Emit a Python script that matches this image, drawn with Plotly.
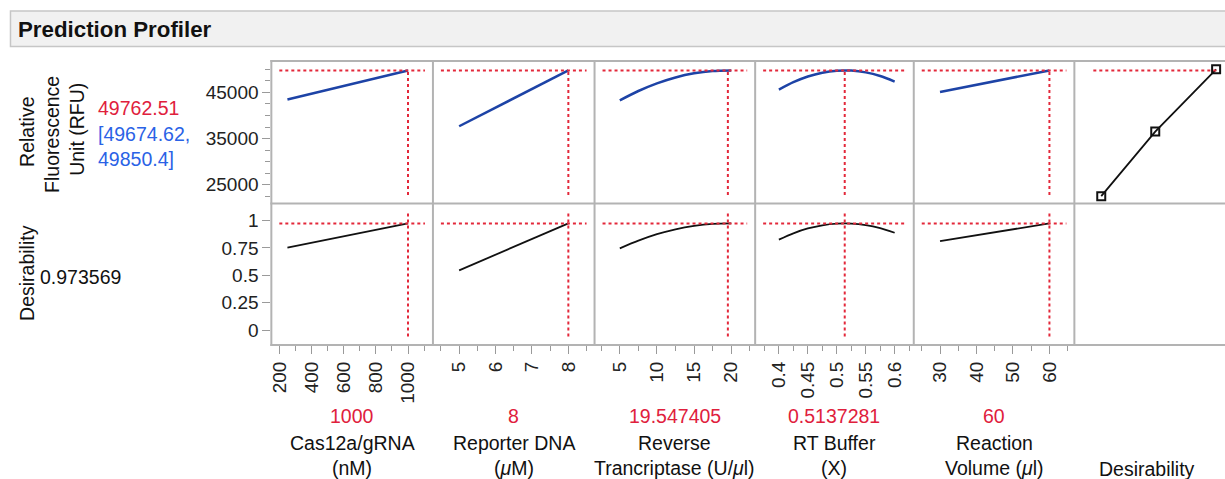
import plotly.graph_objects as go

# ---------------- data ----------------
response_name = "Relative Fluorescence Unit (RFU)"
pred_value = 49762.51
pred_ci = [49674.62, 49850.4]
desirability_value = 0.973569

factor_titles = [["Cas12a/gRNA", "(nM)"],
                 ["Reporter DNA", "(<i>μ</i>M)"],
                 ["Reverse", "Trancriptase (U/<i>μ</i>l)"],
                 ["RT Buffer", "(X)"],
                 ["Reaction", "Volume (<i>μ</i>l)"]]
factor_current = [1000, 8, 19.547405, 0.5137281, 60]
factor_current_text = ["1000", "8", "19.547405", "0.5137281", "60"]

cas_x = [250, 1000]
cas_rfu = [43480, 49762.51]
cas_des = [0.752, 0.9736]

rep_x = [5, 8]
rep_rfu = [37670, 49762.51]
rep_des = [0.545, 0.9736]

rt_x = [5, 7.5, 10, 12.5, 15, 17.5, 20]
rt_rfu = [43270, 45300, 46960, 48240, 49130, 49630, 49756]
rt_des = [0.746, 0.816, 0.875, 0.920, 0.951, 0.969, 0.9734]

buf_x = [0.4, 0.425, 0.45, 0.475, 0.5, 0.525, 0.55, 0.575, 0.6]
buf_rfu = [45600, 47205, 48444, 49276, 49701, 49721, 49334, 48541, 47340]
buf_des = [0.825, 0.883, 0.927, 0.956, 0.971, 0.972, 0.9585, 0.9305, 0.888]

vol_x = [30, 60]
vol_rfu = [45065, 49762.51]
vol_des = [0.812, 0.9736]

des_fn_x = [0.135, 0.567, 1.054]
des_fn_rfu = [22520, 36520, 50000]

x_ranges = [[150, 1155], [4.28, 8.72], [1.6, 23.22], [0.359, 0.633], [22.8, 66.84], [-0.08, 1.125]]
x_dtick = [200, 1, 5, 0.05, 10, 0.25]
x_minor = [100, 0.5, 2.5, 0.025, 5, None]
rfu_range = [20935, 51800]
des_range = [-0.136, 1.155]

# ---------------- layout geometry (pixels) ----------------
W, H = 1225, 479
col_edges = [269, 431, 593, 754, 913, 1074, 1225]
row_edges = [61, 203.5, 345]
FONT = "Liberation Sans, Arial, Helvetica, sans-serif"
RED = "#e3283a"
REDTXT = "#e0203c"
BLUETXT = "#2a62e6"
BLUE = "#1d43a6"
GRID = "#b3b3b3"
TICK = "#9a9a9a"
TXT = 19.5
TICKTXT = 19

def px_x(p):
    return p / W

def px_y(p):
    return 1 - p / H

fig = go.Figure()

curves_x = [cas_x, rep_x, rt_x, buf_x, vol_x]
curves_rfu = [cas_rfu, rep_rfu, rt_rfu, buf_rfu, vol_rfu]
curves_des = [cas_des, rep_des, rt_des, buf_des, vol_des]

layout_axes = {}
for r in range(2):
    for c in range(6):
        k = r * 6 + c + 1
        xs = "" if k == 1 else str(k)
        xdom = [px_x(col_edges[c]), px_x(col_edges[c + 1])]
        ydom = [px_y(row_edges[r + 1]), px_y(row_edges[r])]
        xa = dict(domain=xdom, range=x_ranges[c], anchor="y" + xs,
                  showgrid=False, zeroline=False, showline=False,
                  fixedrange=True)
        if r == 1:
            xa.update(ticks="outside", ticklen=8, tickcolor=TICK, tickwidth=1,
                      tick0=0, dtick=x_dtick[c], tickangle=-90, tickformat="~g",
                      tickfont=dict(family=FONT, size=TICKTXT, color="#222"))
            if x_minor[c] is not None:
                xa["minor"] = dict(dtick=x_minor[c], ticks="outside", ticklen=5,
                                   tickcolor=TICK, showgrid=False)
        else:
            xa.update(showticklabels=False, ticks="")
        ya = dict(domain=ydom, anchor="x" + xs, showgrid=False, zeroline=False,
                  showline=False, fixedrange=True,
                  range=rfu_range if r == 0 else des_range)
        if c == 0:
            ya.update(ticks="outside", ticklen=8, tickcolor=TICK, tickwidth=1,
                      tickfont=dict(family=FONT, size=TICKTXT, color="#222"))
            if r == 0:
                ya.update(tick0=25000, dtick=10000, tickformat="d",
                          minor=dict(dtick=2500, ticks="outside", ticklen=5,
                                     tickcolor=TICK, showgrid=False))
            else:
                ya.update(tick0=0, dtick=0.25, tickformat="~g")
        else:
            ya.update(showticklabels=False, ticks="")
        layout_axes["xaxis" + xs] = xa
        layout_axes["yaxis" + xs] = ya

# profile traces
for c in range(5):
    k_top = c + 1
    k_bot = 6 + c + 1
    xt = "x" if k_top == 1 else "x" + str(k_top)
    yt = "y" if k_top == 1 else "y" + str(k_top)
    fig.add_trace(go.Scatter(x=curves_x[c], y=curves_rfu[c], mode="lines",
                             line=dict(color=BLUE, width=2.5, shape="spline", smoothing=0.8),
                             xaxis=xt, yaxis=yt, hoverinfo="skip"))
    fig.add_trace(go.Scatter(x=curves_x[c], y=curves_des[c], mode="lines",
                             line=dict(color="#111", width=1.8, shape="spline", smoothing=0.8),
                             xaxis="x" + str(k_bot), yaxis="y" + str(k_bot),
                             hoverinfo="skip"))

# desirability function panel
fig.add_trace(go.Scatter(x=des_fn_x, y=des_fn_rfu, mode="lines+markers",
                         line=dict(color="#111", width=1.8),
                         marker=dict(symbol="square-open", size=8, color="#111",
                                     line=dict(width=2, color="#111")),
                         xaxis="x6", yaxis="y6", hoverinfo="skip"))

shapes = []
# crosshair lines
for r in range(2):
    rowh = row_edges[r + 1] - row_edges[r]
    yval = pred_value if r == 0 else desirability_value
    for c in range(6):
        if r == 1 and c == 5:
            continue
        k = r * 6 + c + 1
        xs = "" if k == 1 else str(k)
        colw = col_edges[c + 1] - col_edges[c]
        if c == 5:
            x0d, x1d = 19 / colw, 144 / colw
        else:
            x0d, x1d = 8 / colw, 1 - 8 / colw
        shapes.append(dict(type="line", xref="x" + xs + " domain", yref="y" + xs,
                           x0=x0d, x1=x1d, y0=yval, y1=yval,
                           line=dict(color=RED, width=2, dash="3px,3px")))
        if c < 5:
            shapes.append(dict(type="line", xref="x" + xs, yref="y" + xs + " domain",
                               x0=factor_current[c], x1=factor_current[c],
                               y0=8.5 / rowh, y1=1 - 9 / rowh,
                               line=dict(color=RED, width=2, dash="3px,3px")))

# panel borders
for xe in col_edges[:-1]:
    shapes.append(dict(type="line", xref="paper", yref="paper",
                       x0=px_x(xe), x1=px_x(xe), y0=px_y(row_edges[2] + 1), y1=px_y(row_edges[0] - 1),
                       line=dict(color=GRID, width=2)))
for ye in row_edges:
    shapes.append(dict(type="line", xref="paper", yref="paper",
                       x0=px_x(col_edges[0] - 1), x1=1.0, y0=px_y(ye), y1=px_y(ye),
                       line=dict(color=GRID, width=2)))

# header box
shapes.append(dict(type="rect", xref="paper", yref="paper",
                   x0=px_x(7.5), x1=px_x(1240), y0=px_y(46.5), y1=px_y(11),
                   fillcolor="#f1f1f1", line=dict(color="#c6c6c6", width=1.5),
                   layer="below"))

ann = []
def add_text(text, x, y, size=TXT, color="#111", xanchor="center", angle=0, bold=False):
    ann.append(dict(text=("<b>%s</b>" % text) if bold else text,
                    x=px_x(x), y=px_y(y), xref="paper", yref="paper",
                    xanchor=xanchor, yanchor="middle", showarrow=False,
                    textangle=angle, font=dict(family=FONT, size=size, color=color)))

add_text("Prediction Profiler", 13, 30, size=22.3, xanchor="left", bold=True)

# left labels
add_text("Relative", 24, 132, angle=-90)
add_text("Fluorescence", 49, 134, angle=-90)
add_text("Unit (RFU)", 74, 129, angle=-90)
add_text("%.2f" % pred_value, 93, 108, color=REDTXT, xanchor="left")
add_text("[%.2f," % pred_ci[0], 93, 134, color=BLUETXT, xanchor="left")
add_text("%s]" % pred_ci[1], 93, 159, color=BLUETXT, xanchor="left")
add_text("Desirability", 24, 273, angle=-90)
add_text("%.6f" % desirability_value, 35, 277, xanchor="left")

# bottom labels
for c in range(5):
    cx = (col_edges[c] + col_edges[c + 1]) / 2
    add_text(factor_current_text[c], cx, 416, color=REDTXT)
    add_text(factor_titles[c][0], cx, 443)
    add_text(factor_titles[c][1], cx, 468)
add_text("Desirability", 1147, 469)

fig.update_layout(width=W, height=H, margin=dict(l=0, r=0, t=0, b=0),
                  paper_bgcolor="white", plot_bgcolor="white", showlegend=False,
                  shapes=shapes, annotations=ann, **layout_axes)

fig.write_html("out.html")
